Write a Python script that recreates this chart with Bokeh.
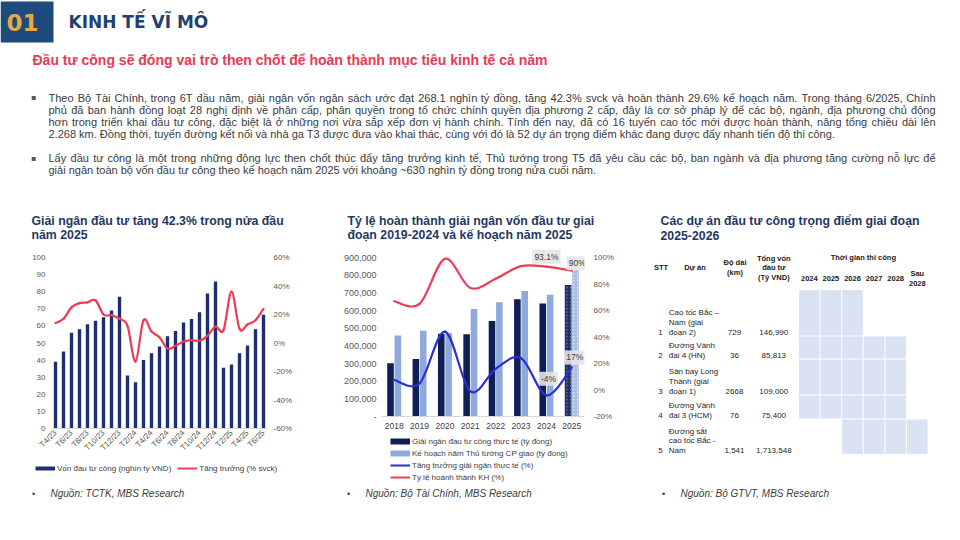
import math
import unicodedata
from bokeh.plotting import figure
from bokeh.models import (Range1d, LinearAxis, FixedTicker, PrintfTickFormatter,
                          NumeralTickFormatter, Label, Legend, LegendItem, ColumnDataSource)
from bokeh.layouts import column, row
from bokeh.embed import file_html
from bokeh.resources import INLINE

# ---------------- data ----------------
months = ["T4/23", "T5/23", "T6/23", "T7/23", "T8/23", "T9/23", "T10/23", "T11/23", "T12/23",
          "T1/24", "T2/24", "T3/24", "T4/24", "T5/24", "T6/24", "T7/24", "T8/24", "T9/24",
          "T10/24", "T11/24", "T12/24", "T1/25", "T2/25", "T3/25", "T4/25", "T5/25", "T6/25"]
von_dtc = [39, 45, 56, 58, 61, 63, 65, 69, 77, 31, 27, 40, 44, 48, 54, 57, 62, 64, 68, 79, 86,
           35.5, 37.5, 44, 48.5, 58, 66.5]
tang_truong = [14, 17, 25, 28, 28.5, 30, 20, 19.5, 17, 12, -13, 16, 8, 4, -4, -2, 1, 2, 1.5, 5,
               11.5, 9, 36, 10, 13, 16, 24]

years = ["2018", "2019", "2020", "2021", "2022", "2023", "2024", "2025"]
giai_ngan = [302000, 326000, 468000, 466000, 540000, 664000, 640000, 745000]
ke_hoach = [458000, 485000, 472000, 608000, 647000, 711000, 689000, 830000]
tang_truong_gn = [7.7, 5, 44, -1, 16, 24, -4, 17]
ty_le_ht = [67, 65, 99, 77, 84, 93.5, 93.1, 90]

tbl_years = ["2024", "2025", "2026", "2027", "2028", "Sau\n2028"]
stt = ["1", "2", "3", "4", "5"]
du_an = ["Cao tốc Bắc –\nNam (giai\nđoạn 2)", "Đường Vành\nđai 4 (HN)",
         "Sân bay Long\nThành (giai\nđoạn 1)", "Đường Vành\nđai 3 (HCM)",
         "Đường sắt\ncao tốc Bắc -\nNam"]
do_dai = ["729", "36", "2668", "76", "1,541"]
tong_von = ["146,990", "85,813", "109,000", "75,400", "1,713,548"]
bat_dau = [0, 0, 0, 0, 2]
ket_thuc = [2, 4, 4, 4, 5]

para1 = ["Theo Bộ Tài Chính, trong 6T đầu năm, giải ngân vốn ngân sách ước đạt 268.1 nghìn tỷ đồng, tăng 42.3% svck và hoàn thành 29.6% kế hoạch năm. Trong tháng 6/2025, Chính",
         "phủ đã ban hành đồng loạt 28 nghị định về phân cấp, phân quyền trong tổ chức chính quyền địa phương 2 cấp, đây là cơ sở pháp lý để các bộ, ngành, địa phương chủ động",
         "hơn trong triển khai đầu tư công, đặc biệt là ở những nơi vừa sắp xếp đơn vị hành chính. Tính đến nay, đã có 16 tuyến cao tốc mới được hoàn thành, nâng tổng chiều dài lên",
         "2.268 km. Đồng thời, tuyến đường kết nối và nhà ga T3 được đưa vào khai thác, cùng với đó là 52 dự án trọng điểm khác đang được đẩy nhanh tiến độ thi công."]
para2 = ["Lấy đầu tư công là một trong những động lực then chốt thúc đẩy tăng trưởng kinh tế, Thủ tướng trong T5 đã yêu cầu các bộ, ban ngành và địa phương tăng cường nỗ lực để",
         "giải ngân toàn bộ vốn đầu tư công theo kế hoạch năm 2025 với khoảng ~630 nghìn tỷ đồng trong nửa cuối năm."]

# ---------------- styles ----------------
FONT = "Liberation Sans"
HFONT = "DejaVu Sans"
NAVY_T = "#1f3864"
GREY = "#595959"
TXT = "#3b3b3b"
RED = "#f03a55"
BLUE = "#2b2fd6"
BAR_L = "#1c2e6b"
BAR_D = "#0f1e55"
BAR_P = "#8eaadc"
CELL = "#dae3f3"
TITLE_FS = 12.3

# approximate Arial / Liberation Sans advance widths (1/1000 em), for justifying lines
AW = {" ": 278, "!": 278, "%": 889, "(": 333, ")": 333, ",": 278, "-": 333, ".": 278,
      "/": 278, ":": 278, "~": 584, "\u0110": 722, "\u0111": 556}
for ch in "0123456789":
    AW[ch] = 556
for ch, w in zip("ABCDEFGHIJKLMNOPQRSTUVWXYZ",
                 [667, 667, 722, 722, 667, 611, 778, 722, 278, 500, 667, 556, 833, 722, 778,
                  667, 778, 722, 667, 611, 722, 667, 944, 667, 667, 611]):
    AW[ch] = w
for ch, w in zip("abcdefghijklmnopqrstuvwxyz",
                 [556, 556, 500, 556, 556, 278, 556, 556, 222, 222, 500, 222, 833, 556, 556,
                  556, 556, 333, 500, 278, 556, 500, 722, 500, 500, 500]):
    AW[ch] = w


def text_w(s, fs):
    tot = 0
    for ch in s:
        dec = unicodedata.normalize("NFD", ch)
        w = AW.get(dec[0], 556)
        if "\u031b" in dec:
            w += 80
        tot += w
    return tot * fs / 1000.0


def style_of(bold, italic):
    if bold and italic:
        return "bold italic"
    if bold:
        return "bold"
    if italic:
        return "italic"
    return "normal"


def no_align(p):
    try:
        p.frame_align = False
    except Exception:
        pass


def canvas(w, h, x0, y0):
    p = figure(width=w, height=h, x_range=Range1d(x0, x0 + w), y_range=Range1d(y0 + h, y0),
               output_backend="svg", toolbar_location=None, min_border=0,
               x_axis_type=None, y_axis_type=None)
    p.outline_line_color = None
    p.grid.visible = False
    no_align(p)
    return p


def dlabel(p, x, y, s, size, color, bold=False, italic=False, align="left", font=FONT):
    p.add_layout(Label(x=x, y=y, text=s, text_font=font, text_font_size=f"{size}px",
                       text_color=color, text_font_style=style_of(bold, italic),
                       text_align=align, text_baseline="middle"))


def justified(p, x0, x1, y, line, size, color):
    words = line.split(" ")
    widths = [text_w(w, size) for w in words]
    gap = (x1 - x0 - sum(widths)) / (len(words) - 1)
    x = x0
    for k, (w, ww) in enumerate(zip(words, widths)):
        if k == len(words) - 1:
            dlabel(p, x1, y, w, size, color, align="right")
        else:
            dlabel(p, x, y, w, size, color)
        x += ww + gap


def bez_source(xs, ys):
    n = len(xs)
    d = dict(x0=[], y0=[], x1=[], y1=[], cx0=[], cy0=[], cx1=[], cy1=[])
    for i in range(n - 1):
        xa, ya = (xs[i - 1], ys[i - 1]) if i > 0 else (xs[i], ys[i])
        xb, yb = (xs[i + 2], ys[i + 2]) if i + 2 < n else (xs[i + 1], ys[i + 1])
        d["x0"].append(xs[i]); d["y0"].append(ys[i])
        d["x1"].append(xs[i + 1]); d["y1"].append(ys[i + 1])
        d["cx0"].append(xs[i] + (xs[i + 1] - xa) / 6)
        d["cy0"].append(ys[i] + (ys[i + 1] - ya) / 6)
        d["cx1"].append(xs[i + 1] - (xb - xs[i]) / 6)
        d["cy1"].append(ys[i + 1] - (yb - ys[i]) / 6)
    return ColumnDataSource(d)


def style_axes(p, ysize="8px"):
    for ax in p.yaxis:
        ax.axis_line_color = None
        ax.major_tick_line_color = None
        ax.minor_tick_line_color = None
        ax.major_tick_out = 0
        ax.major_tick_in = 0
        ax.major_label_text_font = FONT
        ax.major_label_text_font_size = ysize
        ax.major_label_text_color = GREY
        ax.major_label_standoff = 6
    for ax in p.xaxis:
        ax.axis_line_color = "#d9d9d9"
        ax.major_tick_line_color = None
        ax.minor_tick_line_color = None
        ax.major_tick_out = 0
        ax.major_tick_in = 0
        ax.major_label_text_font = FONT
        ax.major_label_text_color = GREY
    p.xgrid.visible = False
    p.ygrid.visible = False
    p.outline_line_color = None
    no_align(p)


def swatch(p, color, width):
    # legend-only renderer, its line lies outside the visible canvas
    return p.line(x=[-60, -40], y=[-60, -60], line_color=color, line_width=width)


# ---------------- top section ----------------
top = canvas(958, 200, 0, 0)
top.quad(left=[0], right=[53], top=[1], bottom=[42], fill_color="#1f4a7c", line_color=None)
dlabel(top, 22, 22, "01", 23, "#e8aa3c", bold=True, align="center", font=HFONT)
dlabel(top, 68, 21.5, "KINH TẾ VĨ MÔ", 17, "#1f4070", bold=True, font=HFONT)
dlabel(top, 32, 59.5, "Đầu tư công sẽ đóng vai trò then chốt để hoàn thành mục tiêu kinh tế cả năm",
       14, "#e93b52", bold=True)
para_y1 = [97, 109.3, 121.5, 133.7]
para_y2 = [157.5, 169.7]
for ys_, lines in ((para_y1, para1), (para_y2, para2)):
    dlabel(top, 33, ys_[0], "▪", 8, GREY, font="DejaVu Sans", align="center")
    for k, (yy, ln) in enumerate(zip(ys_, lines)):
        if k < len(lines) - 1:
            justified(top, 48, 935, yy, ln, 11, TXT)
        else:
            dlabel(top, 48, yy, ln, 11, TXT)

# ---------------- left chart ----------------
tL = canvas(318, 45, 0, 200)
dlabel(tL, 31, 220, "Giải ngân đầu tư tăng 42.3% trong nửa đầu", TITLE_FS, NAVY_T, bold=True)
dlabel(tL, 31, 234, "năm 2025", TITLE_FS, NAVY_T, bold=True)

idx = list(range(len(months)))
left = figure(width=318, height=213, x_range=Range1d(-0.5, len(months) - 0.5),
              y_range=Range1d(0, 100), output_backend="svg", toolbar_location=None,
              min_border_left=51, min_border_right=51, min_border_top=12,
              min_border_bottom=30)
left.extra_y_ranges = {"g": Range1d(-60, 60)}
left.add_layout(LinearAxis(y_range_name="g"), "right")
left.yaxis[0].ticker = FixedTicker(ticks=list(range(0, 101, 10)))
left.yaxis[1].ticker = FixedTicker(ticks=list(range(-60, 61, 20)))
left.yaxis[1].formatter = PrintfTickFormatter(format="%d%%")
style_axes(left, "8px")
left.xaxis.ticker = FixedTicker(ticks=idx[::2])
left.xaxis.major_label_overrides = {i: months[i] for i in idx[::2]}
left.xaxis.major_label_orientation = math.pi / 4
left.xaxis.major_label_text_font_size = "8px"
left.xaxis.major_label_standoff = 3

left.vbar(x=idx, top=von_dtc, width=0.42, fill_color=BAR_L, line_color=None)
left.bezier(x0="x0", y0="y0", x1="x1", y1="y1", cx0="cx0", cy0="cy0", cx1="cx1", cy1="cy1",
            source=bez_source(idx, tang_truong), line_color=RED, line_width=2.2,
            line_cap="round", y_range_name="g")

bL = canvas(318, 80, 0, 458)
lg_bar = swatch(bL, BAR_L, 4)
lg_red = swatch(bL, RED, 2)
leg1 = Legend(items=[LegendItem(label="Vốn đầu tư công (nghìn tỷ VND)", renderers=[lg_bar]),
                     LegendItem(label="Tăng trưởng (% svck)", renderers=[lg_red])],
              orientation="horizontal", location=(35, 538 - 473), padding=0, margin=0,
              spacing=6, label_standoff=2, glyph_width=20, glyph_height=10, label_height=10,
              label_text_font=FONT, label_text_font_size="8px", label_text_color="#404040",
              background_fill_alpha=0, border_line_alpha=0)
bL.add_layout(leg1)
dlabel(bL, 33, 493, "•", 9, TXT, align="center")
dlabel(bL, 50, 493, "Nguồn: TCTK, MBS Research", 10, TXT, italic=True)

# ---------------- middle chart ----------------
tM = canvas(320, 45, 318, 200)
dlabel(tM, 347, 220.5, "Tỷ lệ hoàn thành giải ngân vốn đầu tư giai", TITLE_FS, NAVY_T, bold=True)
dlabel(tM, 347, 234.5, "đoạn 2019-2024 và kế hoạch năm 2025", TITLE_FS, NAVY_T, bold=True)

M_TOP, M_ZERO, M_MAX = 247.0, 416.0, 257.0   # frame top, value 0, value max (page px)
ymax_l = 900000 * (M_ZERO - M_TOP) / (M_ZERO - M_MAX)
ymax_r = -20 + 120 * (M_ZERO - M_TOP) / (M_ZERO - M_MAX)
yi = list(range(len(years)))
mid = figure(width=320, height=191, x_range=Range1d(-0.5, len(years) - 0.5),
             y_range=Range1d(0, ymax_l), output_backend="svg", toolbar_location=None,
             min_border_left=63, min_border_right=54, min_border_top=2,
             min_border_bottom=20)
mid.extra_y_ranges = {"r": Range1d(-20, ymax_r)}
mid.add_layout(LinearAxis(y_range_name="r"), "right")
mid.yaxis[0].ticker = FixedTicker(ticks=list(range(0, 900001, 100000)))
mid.yaxis[0].formatter = NumeralTickFormatter(format="0,0")
mid.yaxis[0].major_label_overrides = {0: "-"}
mid.yaxis[1].ticker = FixedTicker(ticks=list(range(-20, 101, 20)))
mid.yaxis[1].formatter = PrintfTickFormatter(format="%d%%")
style_axes(mid, "8px")
mid.yaxis[0].major_label_text_font_size = "9px"
mid.yaxis[0].major_label_standoff = 5
mid.yaxis[1].major_label_standoff = 9
mid.xaxis.ticker = FixedTicker(ticks=yi)
mid.xaxis.major_label_overrides = {i: years[i] for i in yi}
mid.xaxis.major_label_text_font_size = "8.5px"
mid.xaxis.major_label_text_color = "#404040"
mid.xaxis.major_label_standoff = 6

n_act = len(years) - 1
bw, off = 0.26, 0.145
mid.vbar(x=[i - off for i in yi[:n_act]], top=giai_ngan[:n_act], width=bw,
         fill_color=BAR_D, line_color=None)
mid.vbar(x=[i + off for i in yi[:n_act]], top=ke_hoach[:n_act], width=bw,
         fill_color=BAR_P, line_color=None)
mid.vbar(x=[yi[-1] - off], top=[giai_ngan[-1]], width=bw, fill_color="#7d8ab0",
         hatch_pattern="/", hatch_color=BAR_D, hatch_scale=3.5, hatch_weight=1.3, line_color=None)
mid.vbar(x=[yi[-1] + off], top=[ke_hoach[-1]], width=bw, fill_color="#e3eaf7",
         hatch_pattern="/", hatch_color="#9fb6e0", hatch_scale=3.5, hatch_weight=1.3, line_color=None)
mid.bezier(x0="x0", y0="y0", x1="x1", y1="y1", cx0="cx0", cy0="cy0", cx1="cx1", cy1="cy1",
           source=bez_source(yi, ty_le_ht), line_color=RED, line_width=2.2,
           line_cap="round", y_range_name="r")
mid.bezier(x0="x0", y0="y0", x1="x1", y1="y1", cx0="cx0", cy0="cy0", cx1="cx1", cy1="cy1",
           source=bez_source(yi, tang_truong_gn), line_color=BLUE, line_width=2.2,
           line_cap="round", y_range_name="r")


def val_label(x, y, dx, dy):
    lab = Label(x=x, y=y, y_range_name="r", x_offset=dx, y_offset=dy, text=f"{y:g}%",
                text_font=FONT, text_font_size="8.5px", text_color="#404040",
                text_align="center", text_baseline="middle",
                background_fill_color="#e4e4e4", background_fill_alpha=0.9)
    try:
        lab.padding = 2
    except Exception:
        pass
    mid.add_layout(lab)


val_label(yi[6], ty_le_ht[6], 0, 10)
val_label(yi[7], ty_le_ht[7], 5.5, 7.5)
val_label(yi[6], tang_truong_gn[6], 2, 16.5)
val_label(yi[7], tang_truong_gn[7], 3, 10)

bM = canvas(320, 102, 318, 436)
lg_d = swatch(bM, BAR_D, 6)
lg_p = swatch(bM, BAR_P, 6)
lg_b = swatch(bM, BLUE, 2)
lg_r = swatch(bM, RED, 2)
leg2 = Legend(items=[LegendItem(label="Giải ngân đầu tư công thực tế (tỷ đồng)", renderers=[lg_d]),
                     LegendItem(label="Kế hoạch năm Thủ tướng CP giao (tỷ đồng)", renderers=[lg_p]),
                     LegendItem(label="Tăng trưởng giải ngân thực tế (%)", renderers=[lg_b]),
                     LegendItem(label="Tỷ lệ hoành thành KH (%)", renderers=[lg_r])],
              orientation="vertical", location=(390 - 318, 538 - 482), padding=0, margin=0,
              spacing=2, label_standoff=2, glyph_width=20, glyph_height=10, label_height=10,
              label_text_font=FONT, label_text_font_size="8px", label_text_color="#404040",
              background_fill_alpha=0, border_line_alpha=0)
bM.add_layout(leg2)
dlabel(bM, 348, 493, "•", 9, TXT, align="center")
dlabel(bM, 365, 493, "Nguồn: Bộ Tài Chính, MBS Research", 10, TXT, italic=True)

# ---------------- right table ----------------
tb = canvas(320, 338, 638, 200)
dlabel(tb, 660, 220.5, "Các dự án đầu tư công trọng điểm giai đoạn", TITLE_FS, NAVY_T, bold=True)
dlabel(tb, 660, 234.5, "2025-2026", TITLE_FS, NAVY_T, bold=True)
HC = "#1a1a1a"
HS = 7.5
dlabel(tb, 660.5, 267, "STT", HS, HC, bold=True, align="center")
dlabel(tb, 694.5, 267, "Dự án", HS, HC, bold=True, align="center")
dlabel(tb, 734.5, 262.3, "Độ dài", HS, HC, bold=True, align="center")
dlabel(tb, 734.5, 271.7, "(km)", HS, HC, bold=True, align="center")
for yy, s in zip([257.7, 267.3, 277], ["Tổng vốn", "đầu tư", "(Tỷ VND)"]):
    dlabel(tb, 773.3, yy, s, HS, HC, bold=True, align="center")
col_x0, col_w = 798.0, 21.6
dlabel(tb, col_x0 + 3 * col_w, 257.3, "Thời gian thi công", HS, HC, bold=True, align="center")
for j, yr in enumerate(tbl_years):
    cx = col_x0 + (j + 0.5) * col_w
    parts = yr.split("\n")
    if len(parts) == 1:
        dlabel(tb, cx, 278, parts[0], HS, HC, bold=True, align="center")
    else:
        dlabel(tb, cx, 273, parts[0], HS, HC, bold=True, align="center")
        dlabel(tb, cx, 282.7, parts[1], HS, HC, bold=True, align="center")

row_edges = [289, 335.5, 358.5, 394.5, 418.5, 454]
ql, qr, qt, qb = [], [], [], []
for r in range(len(stt)):
    for j in range(bat_dau[r], ket_thuc[r] + 1):
        ql.append(col_x0 + j * col_w + 0.5)
        qr.append(col_x0 + (j + 1) * col_w - 0.5)
        qt.append(row_edges[r] + 0.5)
        qb.append(row_edges[r + 1] - 0.5)
tb.quad(left=ql, right=qr, top=qt, bottom=qb, fill_color=CELL, line_color=None)

BC = "#262626"
for r in range(len(stt)):
    y_last = row_edges[r + 1] - 4
    lines = du_an[r].split("\n")
    for k, ln in enumerate(lines):
        dlabel(tb, 668.3, y_last - (len(lines) - 1 - k) * 9.6, ln, 8, BC)
    dlabel(tb, 660, y_last, stt[r], 8, BC, align="center")
    dlabel(tb, 734, y_last, do_dai[r], 8, BC, align="center")
    dlabel(tb, 773.3, y_last, tong_von[r], 8, BC, align="center")

dlabel(tb, 663, 493, "•", 9, TXT, align="center")
dlabel(tb, 680, 493, "Nguồn: Bộ GTVT, MBS Research", 10, TXT, italic=True)

layout = column(top, row(column(tL, left, bL), column(tM, mid, bM), tb))
open("out.html", "w").write(file_html(layout, INLINE))
